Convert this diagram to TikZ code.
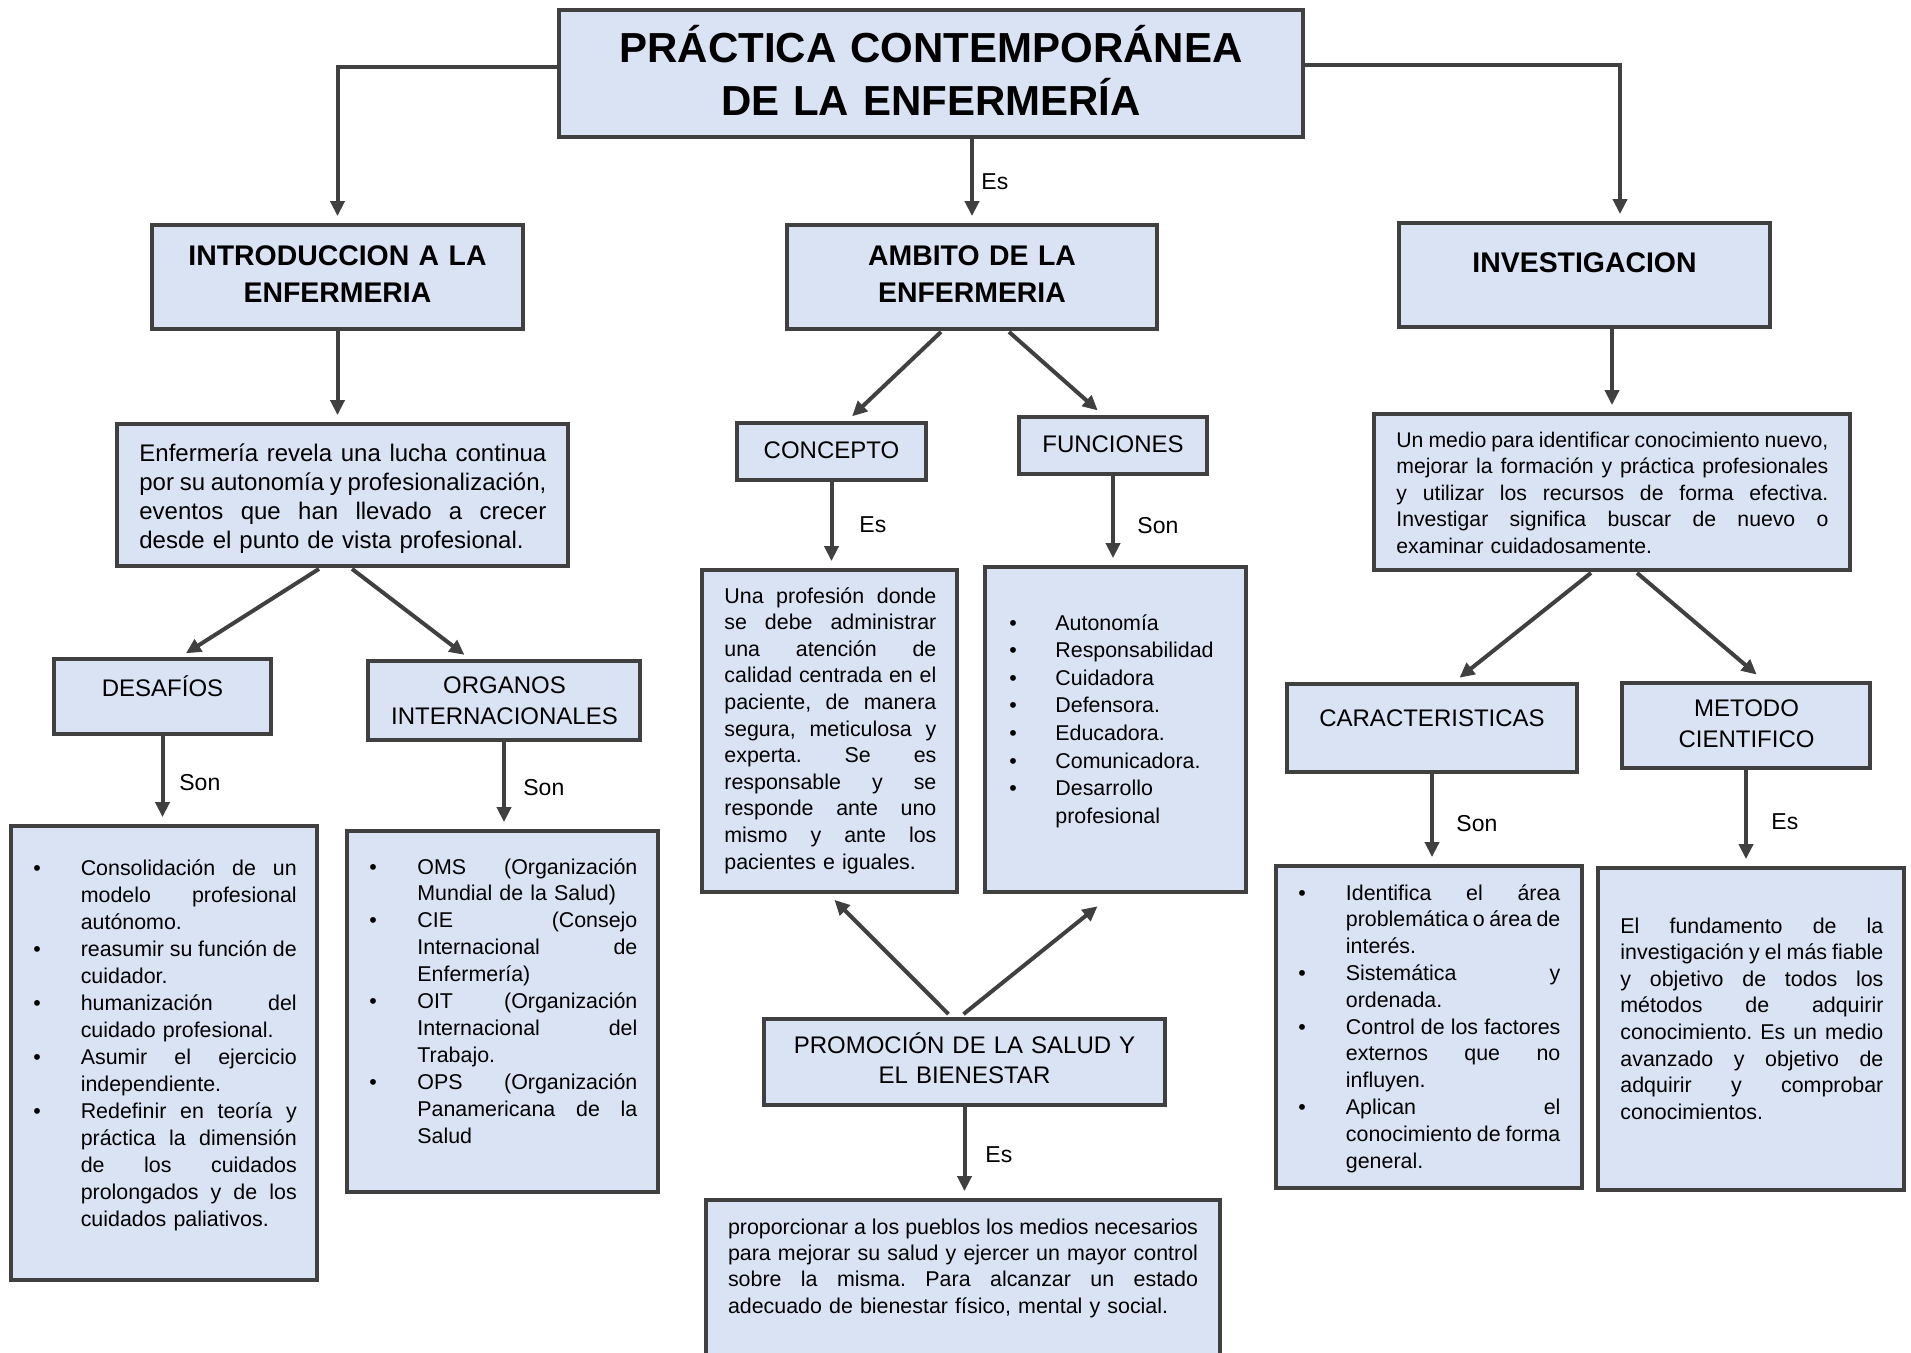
\documentclass[tikz,border=0pt]{standalone}
\usepackage{fontspec}
\setmainfont{Liberation Sans}
\usetikzlibrary{arrows.meta,calc,fit}
\definecolor{boxblue}{HTML}{DAE3F3}
\definecolor{edgegray}{HTML}{404040}
\frenchspacing
\newlength\bcol
\newlength\jw
\newcommand\SpF{\spaceskip=0.28em plus 1fil minus 0.1em\relax}
\newcommand\JuL[1]{\noindent\hbox to \jw{\SpF #1}}
\newcommand\ItJ[1]{\noindent\hbox to \jw{\hbox to \bcol{\textbullet\hfil}\SpF #1}}
\newcommand\ItL[1]{\noindent\hbox to \bcol{\textbullet\hfil}#1}
\newcommand\CoJ[1]{\noindent\hbox to \jw{\hbox to \bcol{\hfil}\SpF #1}}
\newcommand\CoL[1]{\noindent\hbox to \bcol{\hfil}#1}
\tikzset{
  box/.style={draw=edgegray, line width=1.9pt, fill=boxblue, inner sep=0pt, rectangle},
  arr/.style={draw=edgegray, line width=2pt, shorten >=3.5pt, -{Triangle[length=7.5pt,width=7pt]}},
  lbl/.style={font=\fontsize{11.5}{13}\selectfont, anchor=base west, inner sep=0pt},
  hd/.style={align=center, anchor=base, inner sep=0pt},
  hdb/.style={hd, font=\bfseries\fontsize{14.2}{18.25}\selectfont},
  hdm/.style={hd, font=\fontsize{12}{15.25}\selectfont},
  body/.style={align=left, anchor=base west, inner sep=0pt}
}
\begin{document}
\begin{tikzpicture}[x=0.5pt,y=-0.5pt]
\useasboundingbox (0,0) rectangle (1911,1353);
\clip (0,0) rectangle (1911,1353);
% boxes
\node[box, fit={(559,10) (1303,137)}] (title) {};
\node[box, fit={(152,225) (523,329)}] (intro) {};
\node[box, fit={(787,225) (1157,329)}] (amb) {};
\node[box, fit={(1399,223) (1770,327)}] (inv) {};
\node[box, fit={(117,424) (568,566)}] (enf) {};
\node[box, fit={(737,423) (926,480)}] (conc) {};
\node[box, fit={(1019,417) (1207,474)}] (func) {};
\node[box, fit={(702,570) (957,892)}] (cbox) {};
\node[box, fit={(985,567) (1246,892)}] (fbox) {};
\node[box, fit={(764,1019) (1165,1105)}] (promo) {};
\node[box, fit={(706,1200) (1220,1390)}] (bbox) {};
\node[box, fit={(54,659) (271,734)}] (desaf) {};
\node[box, fit={(368,661) (640,740)}] (org) {};
\node[box, fit={(11,826) (317,1280)}] (dlist) {};
\node[box, fit={(347,831) (658,1192)}] (olist) {};
\node[box, fit={(1374,414) (1850,570)}] (itext) {};
\node[box, fit={(1287,684) (1577,772)}] (caract) {};
\node[box, fit={(1622,683) (1870,768)}] (metodo) {};
\node[box, fit={(1276,866) (1582,1188)}] (clist) {};
\node[box, fit={(1598,868) (1904,1190)}] (mtext) {};

% headings
\node[hd, text width=370pt, font=\bfseries\fontsize{21}{26.5}\selectfont] (titleT) at (931,63) {PRÁCTICA CONTEMPORÁNEA\\DE LA ENFERMERÍA};
\node[hdb, text width=180pt] (introT) at (337.5,266) {INTRODUCCION A LA\\ENFERMERIA};
\node[hdb, text width=180pt] (ambT) at (972,266) {AMBITO DE LA\\ENFERMERIA};
\node[hdb, text width=180pt] (invT) at (1584.5,273) {INVESTIGACION};
\node[hdm, text width=90pt] (concTT) at (831.5,458.5) {CONCEPTO};
\node[hdm, text width=90pt] (funcTT) at (1113,452) {FUNCIONES};
\node[hdm, text width=100pt] (desafT) at (162.5,696) {DESAFÍOS};
\node[hdm, text width=130pt] (orgT) at (504.5,693.5) {ORGANOS\\INTERNACIONALES};
\node[hdm, text width=140pt] (caractT) at (1432,726.5) {CARACTERISTICAS};
\node[hdm, text width=120pt] (metodoT) at (1746.5,716.5) {METODO\\CIENTIFICO};
\node[hdm, text width=195pt] (promoT) at (964.5,1053) {PROMOCIÓN DE LA SALUD Y\\EL BIENESTAR};

% body texts
\node[body, text width=203.5pt, font=\fontsize{12}{14.6}\selectfont] (enfT) at (139,461)
 {\setlength\jw{203.5pt}\JuL{Enfermería revela una lucha continua}\\
  \JuL{por su autonomía y profesionalización,}\\
  \JuL{eventos que han llevado a crecer}\\
  desde el punto de vista profesional.};
\node[body, text width=106pt, font=\fontsize{10.7}{13.3}\selectfont] (concT) at (724,603)
 {\setlength\jw{106pt}\JuL{Una profesión donde}\\
  \JuL{se debe administrar}\\
  \JuL{una atención de}\\
  \JuL{calidad centrada en el}\\
  \JuL{paciente, de manera}\\
  \JuL{segura, meticulosa y}\\
  \JuL{experta. Se es}\\
  \JuL{responsable y se}\\
  \JuL{responde ante uno}\\
  \JuL{mismo y ante los}\\
  pacientes e iguales.};
\node[body, text width=120pt, font=\fontsize{10.7}{13.8}\selectfont] (funcT) at (1009,630)
 {\setlength\bcol{23pt}\ItL{Autonomía}\\
  \ItL{Responsabilidad}\\
  \ItL{Cuidadora}\\
  \ItL{Defensora.}\\
  \ItL{Educadora.}\\
  \ItL{Comunicadora.}\\
  \ItL{Desarrollo}\\
  \CoL{profesional}};
\node[body, text width=131.7pt, font=\fontsize{10.7}{13.5}\selectfont] (dlistT) at (33,875)
 {\setlength\bcol{23.7pt}\setlength\jw{131.7pt}\ItJ{Consolidación de un}\\
  \CoJ{modelo profesional}\\
  \CoL{autónomo.}\\
  \ItJ{reasumir su función de}\\
  \CoL{cuidador.}\\
  \ItJ{humanización del}\\
  \CoL{cuidado profesional.}\\
  \ItJ{Asumir el ejercicio}\\
  \CoL{independiente.}\\
  \ItJ{Redefinir en teoría y}\\
  \CoJ{práctica la dimensión}\\
  \CoJ{de los cuidados}\\
  \CoJ{prolongados y de los}\\
  \CoL{cuidados paliativos.}};
\node[body, text width=134pt, font=\fontsize{10.7}{13.45}\selectfont] (olistT) at (369,874)
 {\setlength\bcol{24pt}\setlength\jw{134pt}\ItJ{OMS (Organización}\\
  \CoL{Mundial de la Salud)}\\
  \ItJ{CIE (Consejo}\\
  \CoJ{Internacional de}\\
  \CoL{Enfermería)}\\
  \ItJ{OIT (Organización}\\
  \CoJ{Internacional del}\\
  \CoL{Trabajo.}\\
  \ItJ{OPS (Organización}\\
  \CoJ{Panamericana de la}\\
  \CoL{Salud}};
\node[body, text width=216pt, font=\fontsize{10.6}{13.25}\selectfont] (itextT) at (1396,447)
 {\setlength\jw{216pt}\JuL{Un medio para identificar conocimiento nuevo,}\\
  \JuL{mejorar la formación y práctica profesionales}\\
  \JuL{y utilizar los recursos de forma efectiva.}\\
  \JuL{Investigar significa buscar de nuevo o}\\
  examinar cuidadosamente.};
\node[body, text width=131pt, font=\fontsize{10.7}{13.4}\selectfont] (clistT) at (1298,900)
 {\setlength\bcol{23.75pt}\setlength\jw{131pt}\ItJ{Identifica el área}\\
  \CoJ{problemática o área de}\\
  \CoL{interés.}\\
  \ItJ{Sistemática y}\\
  \CoL{ordenada.}\\
  \ItJ{Control de los factores}\\
  \CoJ{externos que no}\\
  \CoL{influyen.}\\
  \ItJ{Aplican el}\\
  \CoJ{conocimiento de forma}\\
  \CoL{general.}};
\node[body, text width=131.5pt, font=\fontsize{10.7}{13.3}\selectfont] (mtextT) at (1620,933)
 {\setlength\jw{131.5pt}\JuL{El fundamento de la}\\
  \JuL{investigación y el más fiable}\\
  \JuL{y objetivo de todos los}\\
  \JuL{métodos de adquirir}\\
  \JuL{conocimiento. Es un medio}\\
  \JuL{avanzado y objetivo de}\\
  \JuL{adquirir y comprobar}\\
  conocimientos.};
\node[body, text width=235pt, font=\fontsize{10.7}{13.2}\selectfont] (bboxT) at (727.6,1234)
 {\setlength\jw{235pt}\JuL{proporcionar a los pueblos los medios necesarios}\\
  \JuL{para mejorar su salud y ejercer un mayor control}\\
  \JuL{sobre la misma. Para alcanzar un estado}\\
  adecuado de bienestar físico, mental y social.};

% connectors
\draw[arr] ($(title.west)+(0,-6.5)$) -| (intro.north);
\draw[arr] (amb.north |- title.south) -- (amb.north);
\draw[arr] ($(title.east)+(0,-8.5)$) -| ($(inv.north)+(35.5,0)$);
\draw[arr] (intro.south) -- (intro.south |- enf.north);
\draw[arr] ($(enf.south)+(-23.5,1)$) -- ($(desaf.north)+(17.5,0)$);
\draw[arr] ($(enf.south)+(9.5,1)$) -- ($(org.north)+(-34,0)$);
\draw[arr] (desaf.south) -- (desaf.south |- dlist.north);
\draw[arr] (org.south) -- (org.south |- olist.north);
\draw[arr] ($(amb.south)+(-31,1)$) -- ($(conc.north)+(15.5,0)$);
\draw[arr] ($(amb.south)+(37,1)$) -- ($(func.north)+(-10,0)$);
\draw[arr] (conc.south) -- (conc.south |- cbox.north);
\draw[arr] (func.south) -- (func.south |- fbox.north);
\draw[arr] ($(promo.north)+(-16,-3)$) -- ($(cbox.south)+(0,1)$);
\draw[arr] ($(promo.north)+(-1,-3)$) -- ($(fbox.south)+(-12.5,8)$);
\draw[arr] (promo.south) -- (promo.south |- bbox.north);
\draw[arr] (itext.north |- inv.south) -- (itext.north);
\draw[arr] ($(itext.south)+(-21,1)$) -- ($(caract.north)+(22,0)$);
\draw[arr] ($(itext.south)+(25,1)$) -- ($(metodo.north)+(16,-2)$);
\draw[arr] (caract.south) -- (caract.south |- clist.north);
\draw[arr] (metodo.south) -- (metodo.south |- mtext.north);

% connector labels
\node[lbl] (lEs1) at (981,190) {Es};
\node[lbl] (lEs2) at (859,532) {Es};
\node[lbl] (lSon1) at (1137,533) {Son};
\node[lbl] (lSon2) at (179,790) {Son};
\node[lbl] (lSon3) at (523,795) {Son};
\node[lbl] (lEs3) at (985,1162) {Es};
\node[lbl] (lSon4) at (1456,831) {Son};
\node[lbl] (lEs4) at (1771,829) {Es};
\end{tikzpicture}
\end{document}
